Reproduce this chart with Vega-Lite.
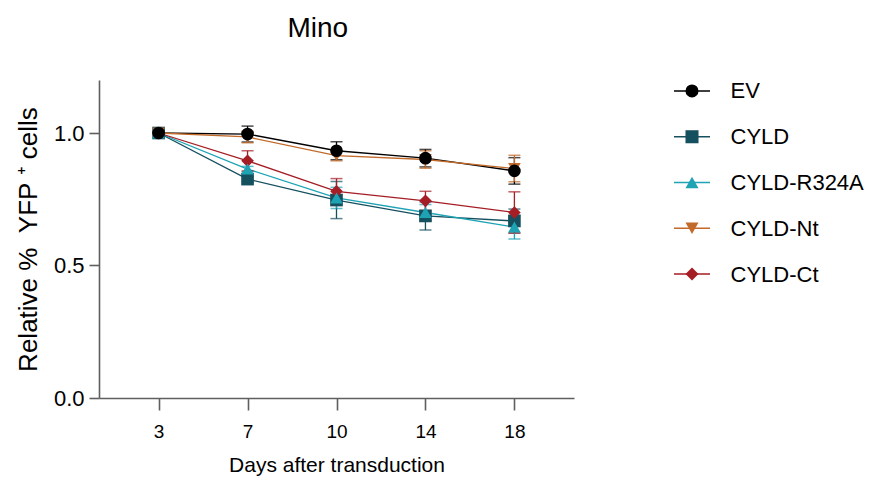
{
  "$schema": "https://vega.github.io/schema/vega-lite/v6.json",
  "background": "white",
  "padding": {"left": 15, "top": 14, "right": 5, "bottom": 5},
  "title": {"text": "Mino", "fontSize": 28, "font": "Liberation Sans", "fontWeight": "normal", "color": "#000", "anchor": "start", "dx": 272, "offset": 37},
  "config": {
    "font": "Liberation Sans",
    "view": {"stroke": null},
    "axis": {"domainColor": "#5f5f5f", "tickColor": "#5f5f5f", "domainWidth": 1.6, "tickWidth": 1.6, "labelColor": "#000", "titleColor": "#000", "labelFont": "Liberation Sans", "titleFont": "Liberation Sans", "grid": false, "titleFontWeight": "normal"}
  },
  "datasets": {
    "pts": [
      {"series": "EV", "day": 3, "mean": 1.0, "err": 0.0},
      {"series": "EV", "day": 7, "mean": 0.996, "err": 0.03},
      {"series": "EV", "day": 10, "mean": 0.933, "err": 0.034},
      {"series": "EV", "day": 14, "mean": 0.905, "err": 0.033},
      {"series": "EV", "day": 18, "mean": 0.857, "err": 0.05},
      {"series": "CYLD", "day": 3, "mean": 1.0, "err": 0.0},
      {"series": "CYLD", "day": 7, "mean": 0.826, "err": 0.01},
      {"series": "CYLD", "day": 10, "mean": 0.747, "err": 0.07},
      {"series": "CYLD", "day": 14, "mean": 0.687, "err": 0.053},
      {"series": "CYLD", "day": 18, "mean": 0.668, "err": 0.045},
      {"series": "CYLD-R324A", "day": 3, "mean": 1.0, "err": 0.0},
      {"series": "CYLD-R324A", "day": 7, "mean": 0.864, "err": 0.01},
      {"series": "CYLD-R324A", "day": 10, "mean": 0.755, "err": 0.04},
      {"series": "CYLD-R324A", "day": 14, "mean": 0.70, "err": 0.03},
      {"series": "CYLD-R324A", "day": 18, "mean": 0.645, "err": 0.045},
      {"series": "CYLD-Nt", "day": 3, "mean": 1.0, "err": 0.0},
      {"series": "CYLD-Nt", "day": 7, "mean": 0.985, "err": 0.022},
      {"series": "CYLD-Nt", "day": 10, "mean": 0.915, "err": 0.02},
      {"series": "CYLD-Nt", "day": 14, "mean": 0.90, "err": 0.033},
      {"series": "CYLD-Nt", "day": 18, "mean": 0.866, "err": 0.05},
      {"series": "CYLD-Ct", "day": 3, "mean": 1.0, "err": 0.0},
      {"series": "CYLD-Ct", "day": 7, "mean": 0.895, "err": 0.038},
      {"series": "CYLD-Ct", "day": 10, "mean": 0.78, "err": 0.048},
      {"series": "CYLD-Ct", "day": 14, "mean": 0.744, "err": 0.036},
      {"series": "CYLD-Ct", "day": 18, "mean": 0.70, "err": 0.078}
    ],
    "leg": [
      {"series": "EV"}, {"series": "CYLD"}, {"series": "CYLD-R324A"}, {"series": "CYLD-Nt"}, {"series": "CYLD-Ct"}
    ]
  },
  "spacing": 99,
  "hconcat": [
    {
      "width": 475,
      "height": 318,
      "data": {"name": "pts"},
      "encoding": {
        "x": {"field": "day", "type": "ordinal", "scale": {"type": "point", "padding": 0.67},
              "axis": {"title": "Days after transduction", "labelAngle": 0, "labelFontSize": 19, "titleFontSize": 21, "tickSize": 12, "labelPadding": 12, "titlePadding": 13}},
        "y": {"field": "mean", "type": "quantitative", "scale": {"domain": [0, 1.2], "nice": false},
              "title": "Relative %\u00a0\u00a0YFP\u00a0\u207a\u00a0cells",
              "axis": {"values": [0, 0.5, 1.0], "format": ".1f", "labelFontSize": 22, "titleFontSize": 26, "tickSize": 10, "labelPadding": 5, "titlePadding": 12}},
        "color": {"field": "series", "type": "nominal",
                  "scale": {"domain": ["EV", "CYLD", "CYLD-R324A", "CYLD-Nt", "CYLD-Ct"], "range": ["#000000", "#15505f", "#1ea3b5", "#c26a2a", "#a51d25"]},
                  "legend": null}
      },
      "layer": [
        {
          "mark": {"type": "line", "strokeWidth": 1.3}
        },
        {
          "mark": {"type": "errorbar", "ticks": {"size": 12, "thickness": 1.5}, "rule": {"strokeWidth": 1.3}},
          "encoding": {
            "yError": {"field": "err"}
          }
        },
        {
          "mark": {"type": "point", "filled": true, "size": 160, "opacity": 1},
          "encoding": {
            "shape": {"field": "series", "type": "nominal",
                      "scale": {"domain": ["EV", "CYLD", "CYLD-R324A", "CYLD-Nt", "CYLD-Ct"], "range": ["circle", "square", "triangle-up", "triangle-down", "diamond"]},
                      "legend": null},
            "order": {"field": "series", "sort": "ascending"}
          }
        }
      ]
    },
    {
      "width": 36,
      "height": 205,
      "data": {"name": "leg"},
      "encoding": {
        "y": {"field": "series", "type": "nominal", "sort": ["EV", "CYLD", "CYLD-R324A", "CYLD-Nt", "CYLD-Ct"],
              "scale": {"type": "point", "padding": 0.24},
              "axis": {"orient": "right", "title": null, "domain": false, "ticks": false, "tickSize": 0, "labelPadding": 20, "labelFontSize": 22}},
        "color": {"field": "series", "type": "nominal", "legend": null}
      },
      "layer": [
        {
          "mark": {"type": "rule", "strokeWidth": 1.3},
          "encoding": {
            "x": {"datum": 0, "type": "quantitative", "scale": {"domain": [0, 1], "nice": false, "zero": false}, "axis": null},
            "x2": {"datum": 1}
          }
        },
        {
          "mark": {"type": "point", "filled": true, "size": 170, "opacity": 1},
          "encoding": {
            "x": {"datum": 0.5, "type": "quantitative"},
            "shape": {"field": "series", "type": "nominal", "legend": null}
          }
        }
      ]
    }
  ]
}
